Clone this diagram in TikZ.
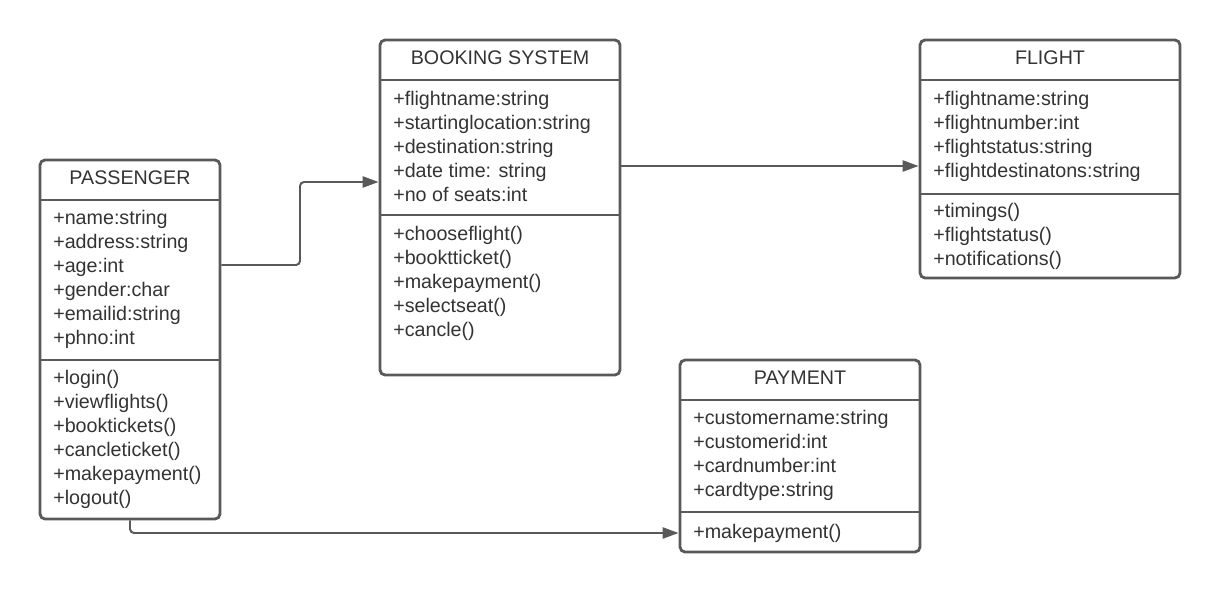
\documentclass[tikz,border=0pt]{standalone}
\usepackage{fontspec}
\setmainfont{Liberation Sans}
\usetikzlibrary{arrows.meta}
\definecolor{umlline}{HTML}{595959}
\definecolor{umltext}{HTML}{333333}
\tikzset{
  classbox/.style={draw=umlline,line width=2pt,rounded corners=1.3mm,inner sep=0pt},
  sepline/.style={draw=umlline,line width=2pt},
  member/.style={anchor=base west,inner sep=0pt,text=umltext,font=\fontsize{14}{17}\selectfont},
  classname/.style={anchor=base,inner sep=0pt,text=umltext,font=\fontsize{14}{17}\selectfont},
  assoc/.style={draw=umlline,line width=1.4pt,rounded corners=1mm,-{Triangle[length=4mm,width=2.8mm]}},
}
\begin{document}
\begin{tikzpicture}[x=0.025cm,y=-0.025cm]
  \useasboundingbox (0,0) rectangle (1220,592);
  % class boxes
  \node[classbox,minimum width=4.5cm,minimum height=8.975cm] (passenger) at (130,339.5) {};
  \node[classbox,minimum width=6cm,minimum height=8.375cm] (booking) at (500,207.5) {};
  \node[classbox,minimum width=6.5cm,minimum height=5.95cm] (flight) at (1050,159) {};
  \node[classbox,minimum width=6cm,minimum height=4.8cm] (payment) at (800,456) {};
  % compartment lines
  \draw[sepline] (passenger.west |- 0,200) -- (passenger.east |- 0,200)
                 (passenger.west |- 0,360) -- (passenger.east |- 0,360);
  \draw[sepline] (booking.west |- 0,80) -- (booking.east |- 0,80)
                 (booking.west |- 0,215) -- (booking.east |- 0,215);
  \draw[sepline] (flight.west |- 0,80) -- (flight.east |- 0,80)
                 (flight.west |- 0,194) -- (flight.east |- 0,194);
  \draw[sepline] (payment.west |- 0,400) -- (payment.east |- 0,400)
                 (payment.west |- 0,512) -- (payment.east |- 0,512);
  % PASSENGER
  \node[classname] (passenger-name) at (130,184) {PASSENGER};
  \foreach \t [count=\i] in {+name:string,+address:string,+age:int,+gender:char,+emailid:string,+phno:int}
    \node[member] (passenger-a\i) at (53,200+\i*24) {\t};
  \foreach \t [count=\i] in {+login(),+viewflights(),+booktickets(),+cancleticket(),+makepayment(),+logout()}
    \node[member] (passenger-m\i) at (53,360+\i*24) {\t};
  % BOOKING SYSTEM
  \node[classname] (booking-name) at (500,64) {BOOKING SYSTEM};
  \foreach \t [count=\i] in {+flightname:string,+startinglocation:string,+destination:string,+date time: string,+no of seats:int}
    \node[member] (booking-a\i) at (393,81+\i*24) {\t};
  \foreach \t [count=\i] in {+chooseflight(),+booktticket(),+makepayment(),+selectseat(),+cancle()}
    \node[member] (booking-m\i) at (393,216+\i*24) {\t};
  % FLIGHT
  \node[classname] (flight-name) at (1050,64) {FLIGHT};
  \foreach \t [count=\i] in {+flightname:string,+flightnumber:int,+flightstatus:string,+flightdestinatons:string}
    \node[member] (flight-a\i) at (933,81+\i*24) {\t};
  \foreach \t [count=\i] in {+timings(),+flightstatus(),+notifications()}
    \node[member] (flight-m\i) at (933,193+\i*24) {\t};
  % PAYMENT
  \node[classname] (payment-name) at (800,384) {PAYMENT};
  \foreach \t [count=\i] in {+customername:string,+customerid:int,+cardnumber:int,+cardtype:string}
    \node[member] (payment-a\i) at (693,400+\i*24) {\t};
  \node[member] (payment-m1) at (693,538) {+makepayment()};
  % associations
  \draw[assoc] (passenger.east |- 0,265) -- (300,265) -- (300,182) -- (booking.west |- 0,182);
  \draw[assoc] (booking.east |- 0,166) -- (flight.west |- 0,166);
  \draw[assoc] (passenger.south) -- (130,533) -- (payment.west |- 0,533);
\end{tikzpicture}
\end{document}
